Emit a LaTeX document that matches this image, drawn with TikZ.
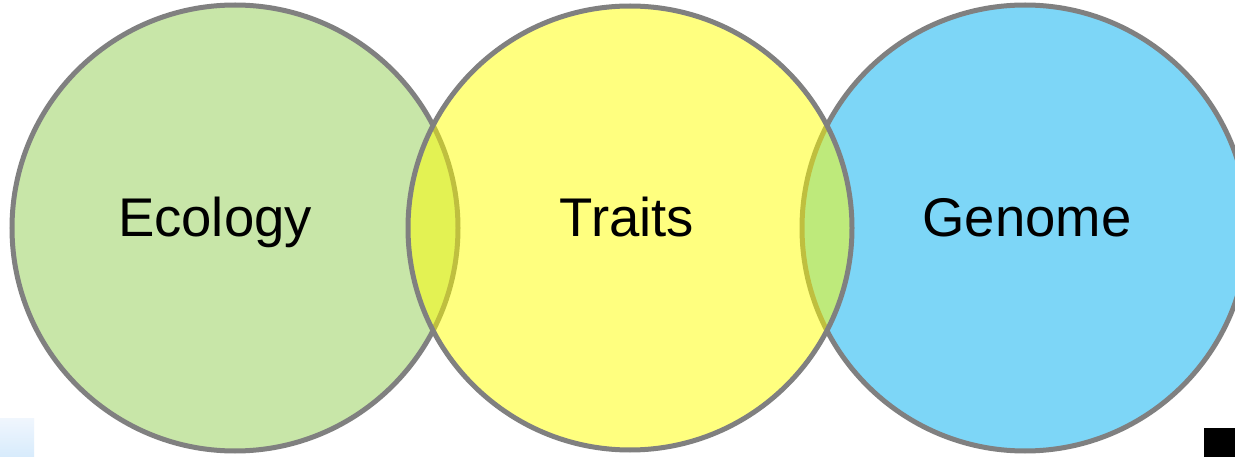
\documentclass[tikz,border=0pt]{standalone}
\usepackage{fontspec}
\setmainfont{Liberation Sans}
\definecolor{ecofill}{RGB}{200,230,168}
\definecolor{genfill}{RGB}{125,214,247}
\definecolor{traitfill}{RGB}{255,255,0}
\definecolor{ringgrey}{RGB}{128,128,128}
\definecolor{blobblue}{RGB}{215,235,252}
\definecolor{blobtop}{RGB}{240,246,253}
\tikzset{
  venn/.style={draw=ringgrey, line width=5pt},
  lbl/.style={font=\fontsize{54.5}{60}\selectfont, text=black, anchor=base, inner sep=0pt}
}
\begin{document}
\begin{tikzpicture}[x=1pt,y=-1pt]
\useasboundingbox (0,0) rectangle (1235,457);
\clip (0,0) rectangle (1235,457);
\fill[white] (0,0) rectangle (1235,457);
% small light-blue blob at bottom left
\shade[top color=blobtop, bottom color=blobblue] (0,418) rectangle (34,457);
% black square at bottom right
\fill[black] (1204,428) rectangle (1235,457);
% circles
\draw[venn, fill=ecofill] (235,228) circle[radius=223];
\draw[venn, fill=genfill] (1025,228) circle[radius=223];
\draw[venn, fill=traitfill, fill opacity=0.5] (630,228) circle[radius=222];
% labels
\node[lbl] (eco) at (215,237) {Ecology};
\node[lbl] (tra) at (627,237) {Traits};
\node[lbl] (gen) at (1027,237) {Genome};
\end{tikzpicture}
\end{document}
